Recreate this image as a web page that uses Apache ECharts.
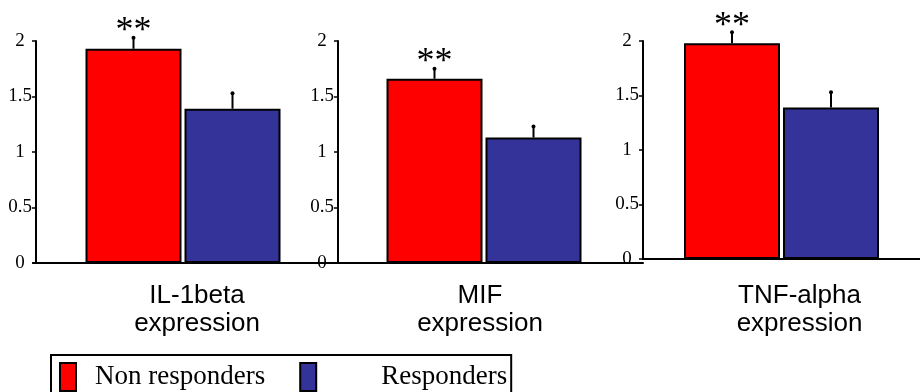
<!DOCTYPE html>
<html>
<head>
<meta charset="utf-8">
<script src="https://cdn.jsdelivr.net/npm/echarts@6/dist/echarts.min.js"></script>
<style>
html,body{margin:0;padding:0;background:#fff;}
#chart{width:920px;height:392px;}
</style>
</head>
<body>
<div id="chart"></div>
<script>
// ---- data ----
const categories = ['IL-1beta\nexpression', 'MIF\nexpression', 'TNF-alpha\nexpression'];
const seriesNames = ['Non responders', 'Responders'];
const nonResponders = [1.93, 1.66, 1.98];
const responders = [1.39, 1.13, 1.39];
const nonRespErr = [0.10, 0.09, 0.10];
const respErr = [0.14, 0.10, 0.14];
const significance = ['**', '**', '**'];
const yTickLabels = ['0', '0.5', '1', '1.5', '2'];

// ---- styles / layout ----
const RED = '#FF0000', BLUE = '#333399';
const BAR_W = 96, GAP_PX = 3;
const grids = [
  {left: 36, width: 294, top: 41, height: 222, labelPad: [0, 0, 0, 28], labelMargin: 19},
  {left: 338, width: 292, top: 41, height: 222, labelPad: [0, 8, 0, 0], labelMargin: 19},
  {left: 643, width: 282, top: 41, height: 218, labelPad: [0, 0, 0, 36], labelMargin: 23}
];

const chart = echarts.init(document.getElementById('chart'), null, {renderer: 'canvas'});

const option = {
  animation: false,
  backgroundColor: '#fff',
  grid: [],
  xAxis: [],
  yAxis: [],
  series: [],
  legend: {
    left: 51, top: 355,
    orient: 'horizontal',
    data: seriesNames,
    itemWidth: 16, itemHeight: 28, itemGap: 34,
    icon: 'rect',
    borderColor: '#000', borderWidth: 2,
    padding: [7, 4, 12, 8],
    selectedMode: false,
    itemStyle: {borderColor: '#000', borderWidth: 2},
    formatter: function (name) {
      return name === 'Responders' ? '{r|' + name + '}' : '{n|' + name + '}';
    },
    textStyle: {
      fontFamily: 'Liberation Serif', fontSize: 27, color: '#000',
      rich: {
        n: {fontFamily: 'Liberation Serif', fontSize: 27, color: '#000', padding: [0, 0, 0, 14]},
        r: {fontFamily: 'Liberation Serif', fontSize: 27, color: '#000', padding: [0, 0, 0, 60]}
      }
    }
  }
};

// decorative continuous baseline across panels 1-2
option.grid.push({left: 33, width: 610, top: 41, height: 222});
option.xAxis.push({
  gridIndex: 0, type: 'value', min: 0, max: 1,
  axisLine: {show: true, onZero: false, lineStyle: {color: '#000', width: 2}},
  axisTick: {show: false}, axisLabel: {show: false}, splitLine: {show: false}
});
option.yAxis.push({gridIndex: 0, type: 'value', min: 0, max: 2, show: false});

grids.forEach(function (g, i) {
  const gi = i + 1;
  option.grid.push({left: g.left, width: g.width, top: g.top, height: g.height});
  option.xAxis.push({
    gridIndex: gi, type: 'category', data: [categories[i]],
    axisLine: {show: true, lineStyle: {color: '#000', width: 2}},
    axisTick: {show: false},
    axisLabel: {
      interval: 0, margin: g.labelMargin, color: '#000',
      fontFamily: 'Liberation Sans', fontSize: 26, lineHeight: 28,
      padding: g.labelPad
    }
  });
  option.yAxis.push({
    gridIndex: gi, type: 'value', min: 0, max: 2, interval: 0.5,
    axisLine: {show: true, lineStyle: {color: '#000', width: 2}},
    axisTick: {show: true, length: 4, lineStyle: {color: '#000', width: 1.5}},
    splitLine: {show: false},
    axisLabel: {
      margin: 16, align: 'center', color: '#000',
      fontFamily: 'Liberation Serif', fontSize: 19,
      formatter: function (v) { return yTickLabels[Math.round(v / 0.5)]; }
    }
  });
  option.series.push({
    type: 'bar', name: seriesNames[0], xAxisIndex: gi, yAxisIndex: gi,
    data: [nonResponders[i]], barWidth: BAR_W, barGap: (GAP_PX / BAR_W * 100) + '%',
    itemStyle: {color: RED, borderColor: '#000', borderWidth: 2}
  });
  option.series.push({
    type: 'bar', name: seriesNames[1], xAxisIndex: gi, yAxisIndex: gi,
    data: [responders[i]], barWidth: BAR_W,
    itemStyle: {color: BLUE, borderColor: '#000', borderWidth: 2}
  });
  option.series.push({
    type: 'custom', xAxisIndex: gi, yAxisIndex: gi, z: 10, clip: false,
    encode: {x: 0, y: 1},
    data: [
      [0, nonResponders[i], nonRespErr[i], -1],
      [0, responders[i], respErr[i], 1]
    ],
    renderItem: function (params, api) {
      const v = api.value(1), e = api.value(2), side = api.value(3);
      const sig = params.dataIndex === 0 ? significance[i] : '';
      const base = api.coord([0, v]);
      const top = api.coord([0, v + e]);
      const x = base[0] + side * (BAR_W + GAP_PX) / 2;
      const children = [
        {type: 'line', shape: {x1: x, y1: base[1], x2: x, y2: top[1]},
         style: {stroke: '#000', lineWidth: 2}},
        {type: 'circle', shape: {cx: x, cy: top[1], r: 2}, style: {fill: '#000'}}
      ];
      if (sig) {
        children.push({type: 'text', style: {
          text: sig, x: x, y: top[1] - 6,
          align: 'center', verticalAlign: 'middle',
          textAlign: 'center', textVerticalAlign: 'middle',
          font: '36px "Liberation Serif"', fill: '#000'
        }});
      }
      return {type: 'group', children: children};
    }
  });
});

chart.setOption(option);
</script>
</body>
</html>
